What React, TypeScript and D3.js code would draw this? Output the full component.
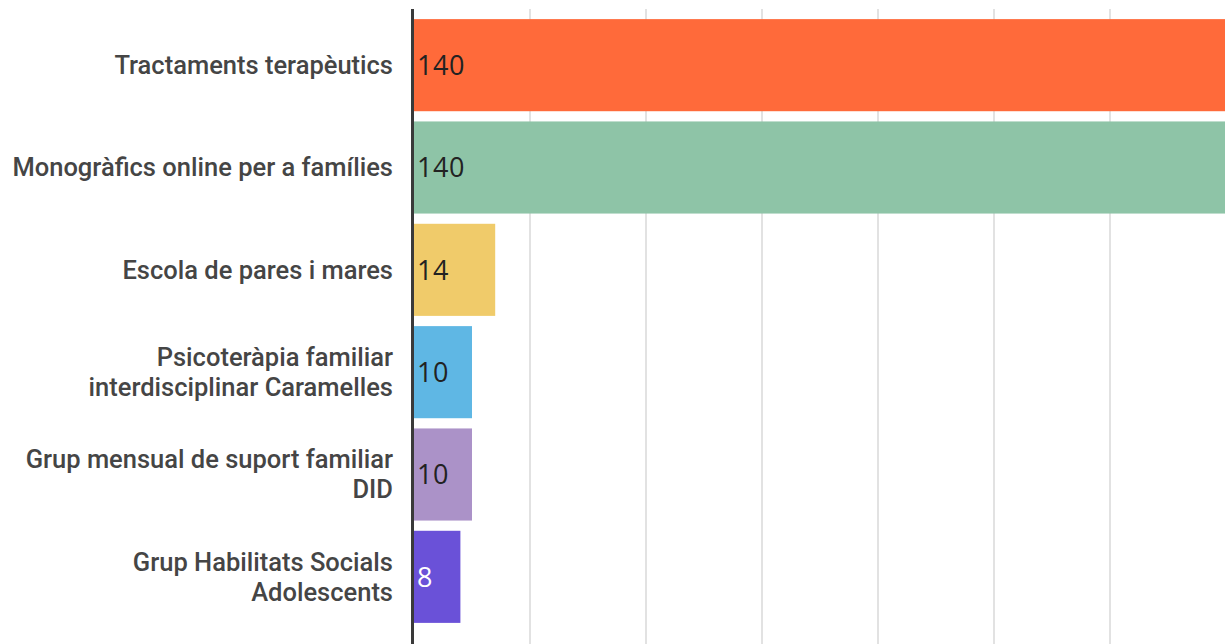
import React from "react";
import * as d3 from "d3";

const categories: string[][] = [
  ["Tractaments terapèutics"],
  ["Monogràfics online per a famílies"],
  ["Escola de pares i mares"],
  ["Psicoteràpia familiar", "interdisciplinar Caramelles"],
  ["Grup mensual de suport familiar", "DID"],
  ["Grup Habilitats Socials", "Adolescents"],
];
const values: number[] = [140, 140, 14, 10, 10, 8];
const colors: string[] = ["#ff6a3a", "#8ec4a7", "#f0cb6a", "#5fb7e4", "#ab92c8", "#6a51d8"];
const labelColors: string[] = ["#222", "#222", "#222", "#222", "#222", "#fff"];
const gridTicks: number[] = [20, 40, 60, 80, 100, 120, 140];

const W = 1225;
const H = 644;

export default function App() {
  const x = d3.scaleLinear().domain([0, 140]).range([414, 1226]);
  const idx = categories.map((_, i) => String(i));
  const y = d3.scaleBand<string>().domain(idx).range([14, 628]).paddingInner(0.1).paddingOuter(0.05);
  return (
    <svg
      width={W}
      height={H}
      style={{ position: "absolute", left: 0, top: 0, overflow: "hidden", background: "#fff" }}
    >
      {gridTicks.map((t) => (
        <line key={t} x1={x(t)} x2={x(t)} y1={9} y2={H + 10} stroke="#d9d9d9" strokeWidth={1.5} />
      ))}
      {values.map((v, i) => {
        const y0 = y(String(i))!;
        return (
          <rect key={i} x={x(0)} y={y0} width={x(v) - x(0)} height={y.bandwidth()} fill={colors[i]} />
        );
      })}
      <line x1={412.5} x2={412.5} y1={9} y2={H + 10} stroke="#3a3a3a" strokeWidth={3} />
      {values.map((v, i) => {
        const cy = y(String(i))! + y.bandwidth() / 2;
        return (
          <text
            key={i}
            x={x(0) + 3}
            y={cy}
            dy="0.36em"
            fill={labelColors[i]}
            style={{ fontFamily: "'Open Sans', sans-serif", fontSize: 27, fontWeight: 400, letterSpacing: 0.5 }}
          >
            {v}
          </text>
        );
      })}
      {categories.map((lines, i) => {
        const cy = y(String(i))! + y.bandwidth() / 2;
        const lh = 30;
        const start = cy - ((lines.length - 1) * lh) / 2;
        return (
          <text
            key={i}
            textAnchor="end"
            fill="#454545"
            style={{ fontFamily: "Roboto, sans-serif", fontSize: 25.5, fontWeight: 500 }}
          >
            {lines.map((l, j) => (
              <tspan key={j} x={393} y={start + j * lh} dy="0.35em">
                {l}
              </tspan>
            ))}
          </text>
        );
      })}
    </svg>
  );
}
